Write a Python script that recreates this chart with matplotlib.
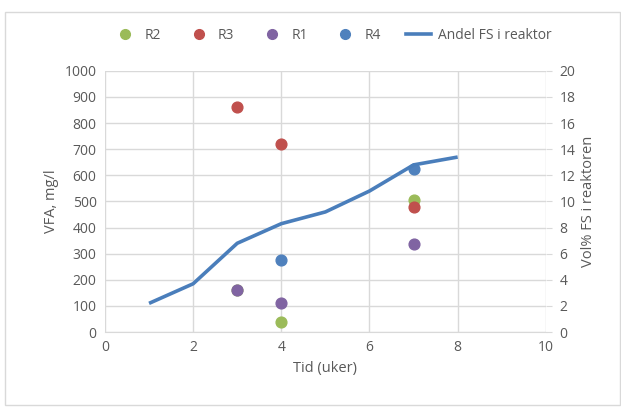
import matplotlib
matplotlib.use("Agg")
import matplotlib.pyplot as plt
from matplotlib.lines import Line2D
from matplotlib.patches import Rectangle

plt.rcParams['font.family'] = ['Open Sans', 'DejaVu Sans']

# Scatter series (VFA, mg/l)
r2_x = [3, 4, 7]
r2_y = [160, 40, 505]
r3_x = [3, 4, 7]
r3_y = [860, 720, 480]
r1_x = [3, 4, 7]
r1_y = [162, 110, 336]
r4_x = [4, 7]
r4_y = [276, 624]

# Line series (Vol% FS i reaktor)
fs_x = [1, 2, 3, 4, 5, 6, 7, 8]
fs_y = [2.2, 3.7, 6.8, 8.3, 9.2, 10.8, 12.8, 13.4]

c_r2 = '#9BBB59'
c_r3 = '#C0504D'
c_r1 = '#8064A2'
c_r4 = '#4F81BD'
c_line = '#4A7EBB'
tick_col = '#595959'
grid_col = '#D9D9D9'

fig = plt.figure(figsize=(6.21, 4.07), dpi=100)
ax = fig.add_axes([0.169, 0.184, 0.710, 0.642])
ax2 = ax.twinx()

ax.scatter(r2_x, r2_y, s=60, color=c_r2, zorder=3, label='R2')
ax.scatter(r3_x, r3_y, s=60, color=c_r3, zorder=3, label='R3')
ax.scatter(r1_x, r1_y, s=60, color=c_r1, zorder=3, label='R1')
ax.scatter(r4_x, r4_y, s=60, color=c_r4, zorder=3, label='R4')
ax2.plot(fs_x, fs_y, color=c_line, lw=2.6, solid_capstyle='butt', label='Andel FS i reaktor')

ax.set_xlim(0, 10)
ax.set_ylim(0, 1000)
ax2.set_ylim(0, 20)
ax.set_xticks(range(0, 11, 2))
ax.set_yticks(range(0, 1001, 100))
ax2.set_yticks(range(0, 21, 2))

ax.grid(True, color=grid_col, lw=1)
ax.set_axisbelow(True)
for a in (ax, ax2):
    for s in ('top', 'left', 'right'):
        a.spines[s].set_visible(False)
    a.spines['bottom'].set_color(grid_col)
    a.tick_params(length=0, labelsize=10, colors=tick_col, pad=6)
ax2.spines['bottom'].set_visible(False)
ax2.tick_params(axis='y', length=4, color=grid_col, direction='out')

ax.set_xlabel('Tid (uker)', fontsize=10.5, color=tick_col)
ax.set_ylabel('VFA, mg/l', fontsize=10.5, color=tick_col)
ax2.set_ylabel('Vol% FS i reaktoren', fontsize=10.5, color=tick_col)

handles = [
    Line2D([], [], marker='o', ls='', color=c_r2, markersize=7),
    Line2D([], [], marker='o', ls='', color=c_r3, markersize=7),
    Line2D([], [], marker='o', ls='', color=c_r1, markersize=7),
    Line2D([], [], marker='o', ls='', color=c_r4, markersize=7),
    Line2D([], [], color=c_line, lw=2.6),
]
labels = ['R2', 'R3', 'R1', 'R4', 'Andel FS i reaktor']
fig.legend(handles, labels, loc='center', bbox_to_anchor=(0.535, 0.912), ncol=5,
           frameon=False, fontsize=10, labelcolor=tick_col, handlelength=1.8,
           columnspacing=1.8, handletextpad=0.5)

fig.patches.append(Rectangle((0.008, 0.005), 0.99, 0.965, transform=fig.transFigure,
                             fill=False, edgecolor='#D9D9D9', lw=1))

fig.savefig('out.png', dpi=100)
